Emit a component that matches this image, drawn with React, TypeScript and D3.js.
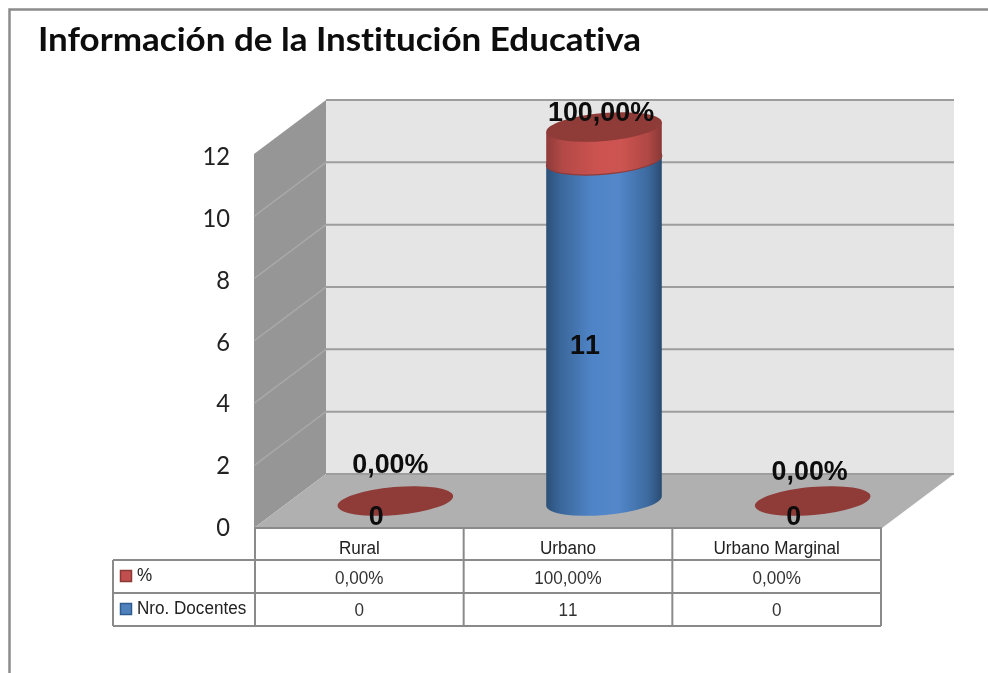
import React from "react";
import * as d3 from "d3";

const title = "Información de la Institución Educativa";
const categories = ["Rural", "Urbano", "Urbano Marginal"];
const docentes = [0, 11, 0];
const pctHeight = [0, 1, 0];
const pctLabels = ["0,00%", "100,00%", "0,00%"];
const docLabels = ["0", "11", "0"];
const yTicks = [0, 2, 4, 6, 8, 10, 12];
const pctLabelNudge = [[-5, 0], [-3, 0], [-3, 7]];
const docLabelNudge = [[-19, 0], [-19, 0], [-19, 0]];

const W = 988, H = 673;
const x0 = 254, x1 = 882, depthX = 72, depthY = -54;
const y = d3.scaleLinear().domain([0, 12]).range([528, 154]);
const xBand = d3.scaleBand<string>().domain(categories).range([255, 881]);
const GRID = "#9d9d9d", LINE = "#8a8a8a";
const RX = 58, RY = 14, TILT = 5;
const midX = depthX / 2, midY = depthY / 2;

function disk(cx: number, cy: number, fill: string) {
  return <ellipse cx={cx} cy={cy} rx={RX} ry={RY} fill={fill} transform={`rotate(${-TILT} ${cx} ${cy})`} />;
}
function barrel(cx: number, yBot: number, yTop: number, fill: string, edge?: string) {
  const dy = RX * Math.sin((TILT * Math.PI) / 180);
  const dx = RX * Math.cos((TILT * Math.PI) / 180);
  const arc = `M${cx + dx},${yBot - dy}A${RX},${RY} ${-TILT} 0 1 ${cx - dx},${yBot + dy}`;
  const d = `M${cx - dx},${yTop + dy}L${cx + dx},${yTop - dy}L${cx + dx},${yBot - dy}A${RX},${RY} ${-TILT} 0 1 ${cx - dx},${yBot + dy}Z`;
  return (
    <g>
      <path d={d} fill={fill} />
      {edge && <path d={arc} fill="none" stroke={edge} strokeWidth={1.2} />}
    </g>
  );
}
function Txt(p: { x: number; y: number; sx?: number; size: number; bold?: boolean; fam?: string; anchor?: string; fill?: string; children: React.ReactNode }) {
  return (
    <text
      transform={`translate(${p.x} ${p.y}) scale(${p.sx ?? 1} 1)`}
      fontFamily={p.fam ?? "'Liberation Sans'"}
      fontSize={p.size}
      fontWeight={p.bold ? 700 : 400}
      textAnchor={p.anchor ?? "middle"}
      fill={p.fill ?? "#222"}
      style={{ fontKerning: "none" }}
    >
      {p.children}
    </text>
  );
}

export default function App() {
  const tableX = [...categories.map((c) => xBand(c)!), 881];
  const rows = [528, 560, 593, 626];
  return (
    <svg width={W} height={H} style={{ position: "absolute", left: 0, top: 0, background: "#fff" }}>
      <defs>
        <linearGradient id="blue" x1="0" x2="1" y1="0" y2="0">
          <stop offset="0" stopColor="#2b5079" />
          <stop offset="0.12" stopColor="#3a6699" />
          <stop offset="0.4" stopColor="#5085c8" />
          <stop offset="0.62" stopColor="#5287ca" />
          <stop offset="0.88" stopColor="#3d6a9f" />
          <stop offset="1" stopColor="#294c72" />
        </linearGradient>
        <linearGradient id="red" x1="0" x2="1" y1="0" y2="0">
          <stop offset="0" stopColor="#8f3b39" />
          <stop offset="0.15" stopColor="#b44a47" />
          <stop offset="0.45" stopColor="#cc5350" />
          <stop offset="0.65" stopColor="#cd5451" />
          <stop offset="0.88" stopColor="#b04845" />
          <stop offset="1" stopColor="#8a3836" />
        </linearGradient>
        <filter id="soft" x="-5%" y="-5%" width="110%" height="110%">
          <feGaussianBlur stdDeviation="0.45" />
        </filter>
      </defs>

      <path d={`M9.5,${H}V9.5H${W}`} fill="none" stroke="#8c8c8c" strokeWidth={2.5} />

      <g filter="url(#soft)">
        <text x={38} y={51} fontFamily="Lato" fontWeight={700} fontSize={32} fill="#0a0a0a" textLength={603} lengthAdjust="spacingAndGlyphs" style={{ fontVariantLigatures: "none" }}>
          {title}
        </text>

        {/* walls */}
        <polygon points={`${x0},${y(0)} ${x0 + depthX},${y(0) + depthY} ${x0 + depthX},${y(12) + depthY} ${x0},${y(12)}`} fill="#969696" />
        <rect x={x0 + depthX} y={y(12) + depthY} width={x1 - x0} height={y(0) - y(12)} fill="#e5e5e5" />
        <polygon points={`${x0},${y(0)} ${x1},${y(0)} ${x1 + depthX},${y(0) + depthY} ${x0 + depthX},${y(0) + depthY}`} fill="#b0b0b0" />

        {yTicks.map((t) => (
          <g key={t}>
            {t > 0 && t < 12 && <line x1={x0} y1={y(t)} x2={x0 + depthX} y2={y(t) + depthY} stroke="#a9a9a9" strokeWidth={1.5} />}
            <line x1={x0 + depthX} y1={y(t) + depthY} x2={x1 + depthX} y2={y(t) + depthY} stroke={GRID} strokeWidth={2} />
            <Txt x={230} y={y(t) + 8 + t * 0.25} size={25} anchor="end" fam="Lato" sx={0.95} fill="#222">{t}</Txt>
          </g>
        ))}

        {/* cylinders */}
        {categories.map((c, i) => {
          const cx = xBand(c)! + xBand.bandwidth() / 2 + midX;
          const yBase = y(0) + midY;
          const yDoc = y(docentes[i]) + midY;
          const yTop = y(docentes[i] + pctHeight[i]) + midY;
          if (docentes[i] === 0 && pctHeight[i] === 0) return <g key={c}>{disk(cx, yBase, "#8f3a39")}</g>;
          return (
            <g key={c}>
              {barrel(cx, yBase, yDoc, "url(#blue)")}
              {barrel(cx, yDoc + 2, yTop, "url(#red)", "#8f3b39")}
              {disk(cx, yTop, "#8f3b39")}
            </g>
          );
        })}

        {/* data labels */}
        {categories.map((c, i) => {
          const cx = xBand(c)! + xBand.bandwidth() / 2 + midX;
          const yTop = y(docentes[i] + pctHeight[i]) + midY;
          const yMid = y(docentes[i] / 2) + midY;
          return (
            <g key={c}>
              <Txt x={cx + pctLabelNudge[i][0]} y={yTop - (docentes[i] ? 6 : 28) + pctLabelNudge[i][1]} size={28} sx={0.96} bold fill="#0a0a0a">{pctLabels[i]}</Txt>
              <Txt x={cx + docLabelNudge[i][0]} y={yMid + 24} size={28} sx={0.96} bold fill="#0a0a0a">{docLabels[i]}</Txt>
            </g>
          );
        })}

        {/* data table */}
        <g fill="none" stroke={LINE} strokeWidth={2}>
          <line x1={x0} y1={rows[0]} x2={882} y2={rows[0]} />
          <line x1={113} y1={rows[1]} x2={881} y2={rows[1]} />
          <line x1={113} y1={rows[2]} x2={881} y2={rows[2]} />
          <line x1={113} y1={rows[3]} x2={881} y2={rows[3]} />
          <line x1={113} y1={rows[1]} x2={113} y2={rows[3]} />
          {tableX.map((tx) => (
            <line key={tx} x1={tx} y1={rows[0]} x2={tx} y2={rows[3]} />
          ))}
        </g>
        {categories.map((c, i) => {
          const cx = xBand(c)! + xBand.bandwidth() / 2;
          return (
            <g key={c}>
              <Txt x={cx} y={554} size={19} sx={0.9}>{c}</Txt>
              <Txt x={cx} y={584} size={19} sx={0.9} fill="#333">{pctLabels[i]}</Txt>
              <Txt x={cx} y={616} size={19} sx={0.9} fill="#333">{docLabels[i]}</Txt>
            </g>
          );
        })}
        <rect x={120.5} y={570.5} width={11} height={11} fill="#c0504d" stroke="#8c3836" strokeWidth={1.5} />
        <rect x={120.5} y={603.5} width={11} height={11} fill="#4f81bd" stroke="#2f5c8f" strokeWidth={1.5} />
        <Txt x={137} y={581} size={19} sx={0.9} anchor="start">%</Txt>
        <Txt x={137} y={614} size={19} sx={0.9} anchor="start">Nro. Docentes</Txt>
      </g>
    </svg>
  );
}
